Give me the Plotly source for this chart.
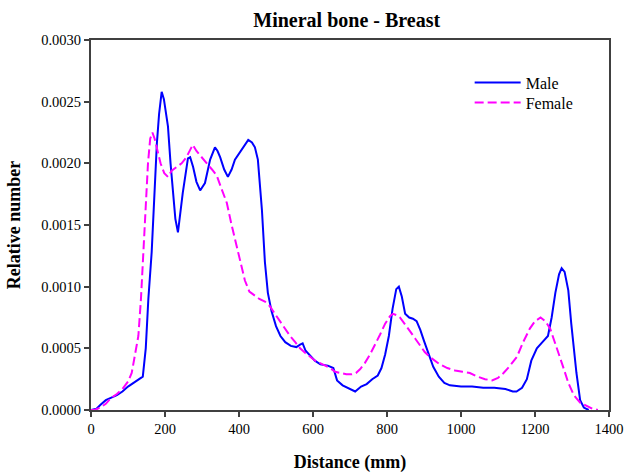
import plotly.graph_objects as go

male_x = [0, 15, 25, 40, 55, 70, 85, 100, 115, 130, 140, 148, 155, 164, 172, 178, 184, 191, 197, 203,
          208, 215, 222, 228, 235, 241, 248, 255, 262, 268, 276, 285, 295, 308, 315, 322, 335, 342, 349, 360,
          370, 380, 389, 400, 411, 418, 425, 435, 443, 451, 457, 462, 470, 478, 488, 500, 512, 525, 540, 555,
          565, 572, 580, 592, 605, 620, 640, 655, 665, 680, 700, 714, 730, 745, 760, 775, 785, 795, 805, 815,
          825, 832, 840, 849, 860, 870, 880, 890, 900, 912, 925, 940, 955, 970, 1000, 1030, 1060, 1090, 1120, 1140,
          1150, 1165, 1178, 1190, 1205, 1220, 1235, 1245, 1255, 1265, 1272, 1280, 1290, 1298, 1305, 1312, 1322, 1332, 1345]
male_y = [0, 0.00001, 0.00004, 0.00008, 0.0001, 0.00012, 0.00015, 0.00019, 0.00022, 0.00025, 0.00027, 0.0005, 0.0009, 0.00128, 0.0018, 0.00216, 0.0024, 0.00258, 0.00252, 0.0024,
          0.0023, 0.002, 0.00176, 0.00155, 0.00144, 0.0016, 0.00176, 0.0019, 0.00204, 0.00205, 0.00197, 0.00185, 0.00178, 0.00184, 0.00195, 0.00203, 0.00213, 0.0021, 0.00205, 0.00195,
          0.00189, 0.00195, 0.00203, 0.00208, 0.00212, 0.00216, 0.00219, 0.00217, 0.00213, 0.00203, 0.0018, 0.00162, 0.0012, 0.00095, 0.0008, 0.00068, 0.0006, 0.00055, 0.00052, 0.00051,
          0.00053, 0.00054, 0.00048, 0.00044, 0.0004, 0.00037, 0.00036, 0.00034, 0.00024, 0.0002, 0.00017, 0.00015, 0.00019, 0.00021, 0.00025, 0.00028, 0.00034, 0.00045, 0.0006, 0.00082,
          0.00098, 0.001, 0.00092, 0.00078, 0.00075, 0.00074, 0.00072, 0.00065, 0.00056, 0.00045, 0.00035, 0.00027, 0.00022, 0.0002, 0.00019, 0.00019, 0.00018, 0.00018, 0.00017, 0.00015,
          0.00015, 0.00018, 0.00025, 0.0004, 0.0005, 0.00055, 0.0006, 0.00075, 0.00095, 0.0011, 0.00115, 0.00112, 0.00097, 0.0007, 0.0005, 0.0003, 0.00008, 0.00002, 0]

female_x = [0, 10, 25, 40, 55, 70, 85, 100, 110, 120, 128, 135, 142, 148, 154, 160, 166, 172, 180, 188,
            198, 208, 218, 230, 245, 258, 266, 275, 285, 298, 313, 327, 340, 352, 367, 380, 394, 405, 416, 428,
            440, 455, 470, 484, 497, 510, 525, 538, 552, 565, 580, 592, 606, 619, 632, 646, 660, 673, 690, 705,
            716, 727, 740, 754, 768, 781, 795, 808, 816, 825, 835, 848, 862, 876, 889, 902, 916, 930, 943, 963,
            984, 1004, 1024, 1045, 1065, 1084, 1100, 1115, 1130, 1151, 1168, 1186, 1200, 1215, 1228, 1241, 1255, 1266, 1276, 1290,
            1305, 1322, 1340, 1355, 1370]
female_y = [0, 0, 0.00002, 0.00005, 0.0001, 0.00013, 0.00017, 0.00023, 0.0003, 0.00045, 0.0006, 0.0009, 0.0013, 0.0017, 0.002, 0.0022, 0.00225, 0.0022, 0.0021, 0.002,
            0.00192, 0.00189, 0.00194, 0.00197, 0.002, 0.00205, 0.0021, 0.00215, 0.0021, 0.00205, 0.002, 0.00195, 0.0019, 0.0018, 0.00168, 0.0015, 0.00132, 0.00118, 0.00105, 0.00096,
            0.00093, 0.0009, 0.00088, 0.00084, 0.00078, 0.00072, 0.00066, 0.0006, 0.00055, 0.0005, 0.00046, 0.00043, 0.0004, 0.00038, 0.00036, 0.00034, 0.00031, 0.0003, 0.00029, 0.00029,
            0.0003, 0.00033, 0.00038, 0.00045, 0.00053, 0.00061, 0.0007, 0.00076, 0.00078, 0.00077, 0.00075, 0.0007, 0.00064, 0.00058, 0.00052, 0.00047, 0.00043, 0.0004, 0.00037, 0.00034,
            0.00032, 0.00031, 0.0003, 0.00027, 0.00025, 0.00024, 0.00026, 0.0003, 0.00035, 0.00043, 0.00055, 0.00066, 0.00072, 0.00075, 0.00072, 0.00066, 0.00054, 0.00044, 0.00035, 0.00022,
            0.00012, 0.00006, 0.00003, 0.00001, 0]

x_ticks = [0, 200, 400, 600, 800, 1000, 1200, 1400]
y_ticks = [0.0, 0.0005, 0.0010, 0.0015, 0.0020, 0.0025, 0.0030]

font = "Liberation Serif, Times New Roman, serif"

fig = go.Figure()
fig.add_trace(go.Scatter(x=male_x, y=male_y, mode="lines", name="Male",
                         line=dict(color="#0000FF", width=2), legend="legend"))
fig.add_trace(go.Scatter(x=female_x, y=female_y, mode="lines", name="Female",
                         line=dict(color="#FF00FF", width=2, dash="9px,4px"), legend="legend2"))

leg_common = dict(xanchor="left", yanchor="middle", bgcolor="rgba(0,0,0,0)",
                  font=dict(family=font, size=16, color="black"), itemwidth=46)

fig.update_layout(
    width=627, height=473, autosize=False,
    margin=dict(l=91, r=18, t=40, b=63, autoexpand=False),
    paper_bgcolor="white", plot_bgcolor="white",
    font=dict(family=font, color="black", size=14.5),
    title=dict(text="<b>Mineral bone - Breast</b>", x=0.553, xanchor="center", y=0.958, yanchor="middle",
               font=dict(family=font, size=20, color="black")),
    showlegend=True,
    legend=dict(x=0.731, y=0.8846, **leg_common),
    legend2=dict(x=0.731, y=0.8305, **leg_common),
    xaxis=dict(range=[0, 1400], tickvals=x_ticks, ticktext=[str(v) for v in x_ticks],
               ticks="outside", ticklen=5, tickwidth=1.5, tickcolor="#404040",
               showline=True, linecolor="#404040", linewidth=2, mirror=True,
               showgrid=False, zeroline=False, automargin=False,
               tickfont=dict(family=font, size=14.5, color="black"),
               title=dict(text="<b>Distance (mm)</b>", font=dict(family=font, size=18, color="black"), standoff=22)),
    yaxis=dict(range=[0, 0.003], tickvals=y_ticks, ticktext=["%.4f" % v for v in y_ticks],
               ticks="outside", ticklen=5, tickwidth=1.5, tickcolor="#404040",
               showline=True, linecolor="#404040", linewidth=2, mirror=True,
               showgrid=False, zeroline=False, automargin=False,
               tickfont=dict(family=font, size=14.5, color="black"),
               title=dict(text="<b>Relative number</b>", font=dict(family=font, size=18, color="black"), standoff=16)),
)

fig.write_html("out.html", config={"displayModeBar": False},
               post_script="document.body.style.margin='0';document.body.style.overflow='hidden';")
